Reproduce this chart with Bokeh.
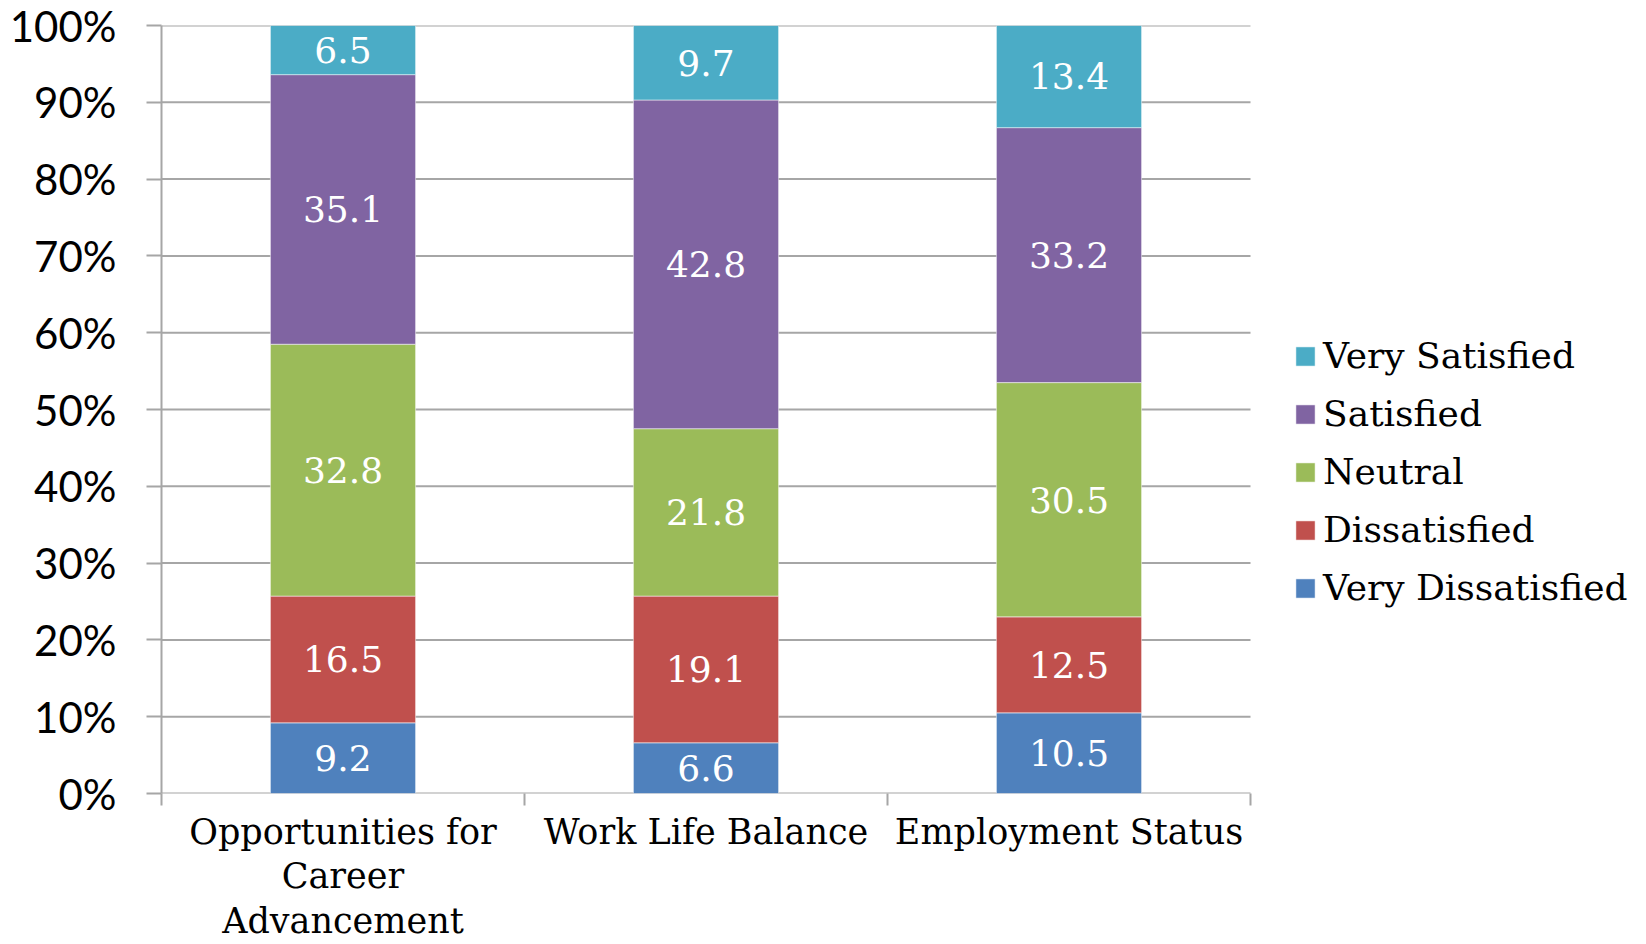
from bokeh.plotting import figure
from bokeh.models import (Range1d, FixedTicker, PrintfTickFormatter, Legend, LegendItem,
                          ColumnDataSource)
from bokeh.core.properties import value
from bokeh.embed import file_html
from bokeh.resources import INLINE

categories = ["Opportunities for\nCareer\nAdvancement", "Work Life Balance", "Employment Status"]
series_names = ["Very Dissatisfied", "Dissatisfied", "Neutral", "Satisfied", "Very Satisfied"]
very_dissatisfied = [9.2, 6.6, 10.5]
dissatisfied = [16.5, 19.1, 12.5]
neutral = [32.8, 21.8, 30.5]
satisfied = [35.1, 42.8, 33.2]
very_satisfied = [6.5, 9.7, 13.4]
colors = ["#4F81BD", "#C0504D", "#9BBB59", "#8064A2", "#4BACC6"]
y_ticks = list(range(0, 101, 10))

series = [very_dissatisfied, dissatisfied, neutral, satisfied, very_satisfied]
n_cat = len(categories)
xs = [i + 0.5 for i in range(n_cat)]
bounds = list(range(n_cat + 1))

SERIF = "DejaVu Serif"
GRID = "#a6a6a6"

# frame spans to the right edge so that the legend (drawn inside the frame) is not clipped;
# the category area covers 0..3 (1089 px), the rest holds the legend
PX_PER_UNIT = 1089 / 3
x_end = 1485 / PX_PER_UNIT

p = figure(width=1646, height=944, output_backend="svg", toolbar_location=None,
           x_range=Range1d(0, x_end), y_range=Range1d(0, 100),
           min_border_left=161, min_border_right=0, min_border_top=25, min_border_bottom=149)
p.outline_line_color = None
p.background_fill_color = "white"
p.border_fill_color = "white"

# horizontal gridlines only across the category area
p.segment(x0=[0] * len(y_ticks), x1=[n_cat] * len(y_ticks), y0=y_ticks, y1=y_ticks,
          line_color=GRID, line_width=2, level="underlay")

data = {"x": xs}
for name, vals in zip(series_names, series):
    data[name] = vals
src = ColumnDataSource(data)
renderers = p.vbar_stack(series_names, x="x", width=0.4, source=src, color=colors,
                         line_color="white", line_alpha=0.5, line_width=1)

# value labels
lx, ly, lt = [], [], []
for ci in range(n_cat):
    base = 0.0
    for vals in series:
        v = vals[ci]
        lx.append(xs[ci])
        ly.append(base + v / 2)
        lt.append("%.1f" % v)
        base += v
p.text(x=lx, y=ly, text=lt, text_align="center", text_baseline="middle",
       text_color="white", text_font=value(SERIF), text_font_size="36px")

# y axis
p.yaxis.ticker = FixedTicker(ticks=y_ticks)
p.yaxis.formatter = PrintfTickFormatter(format="%d%%")
p.yaxis.major_label_text_font = "Lato"
p.yaxis.major_label_text_font_size = "42px"
p.yaxis.major_label_text_color = "black"
p.yaxis.major_tick_out = 15
p.yaxis.major_tick_in = 0
p.yaxis.minor_tick_line_color = None
p.yaxis.major_tick_line_color = GRID
p.yaxis.major_tick_line_width = 2
p.yaxis.axis_line_color = GRID
p.yaxis.axis_line_width = 2
p.yaxis.major_label_standoff = 30

p.xgrid.grid_line_color = None
p.ygrid.grid_line_color = None

# x axis
p.xaxis.ticker = FixedTicker(ticks=xs, minor_ticks=bounds)
p.xaxis.major_label_overrides = {x: c for x, c in zip(xs, categories)}
p.xaxis.major_tick_line_color = None
p.xaxis.minor_tick_line_color = GRID
p.xaxis.minor_tick_line_width = 2
p.xaxis.minor_tick_out = 12
p.xaxis.minor_tick_in = 0
p.xaxis.axis_line_color = None
p.xaxis.major_label_text_font = SERIF
p.xaxis.major_label_text_font_size = "35px"
p.xaxis.major_label_text_color = "black"
p.xaxis.major_label_text_line_height = 1.12
p.xaxis.major_label_standoff = 6

# legend (top entry = Very Satisfied)
items = [LegendItem(label=n, renderers=[r]) for n, r in zip(series_names, renderers)][::-1]
legend = Legend(items=items, location=(1132, 185), orientation="vertical",
                glyph_width=24, glyph_height=24, label_height=24, spacing=17,
                label_standoff=6, padding=0, margin=0,
                label_text_font=SERIF, label_text_font_size="36px",
                label_text_color="black", background_fill_alpha=0,
                border_line_color=None)
p.add_layout(legend, "center")

open("out.html", "w").write(file_html(p, INLINE))
